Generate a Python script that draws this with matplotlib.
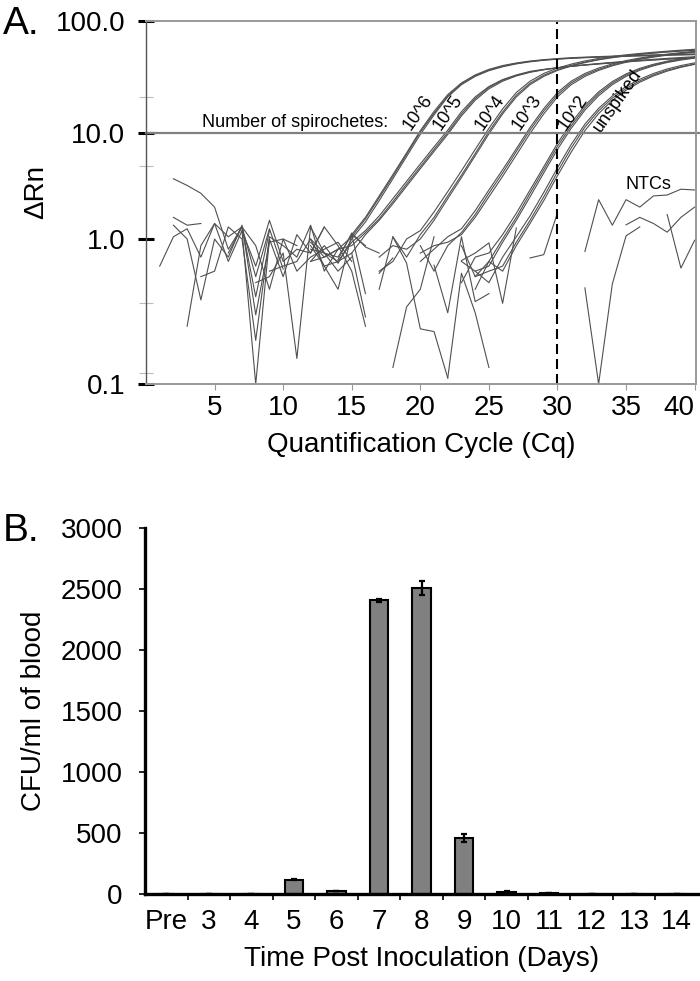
import numpy as np
import matplotlib
matplotlib.use('Agg')
import matplotlib.pyplot as plt

plt.rcParams['font.family'] = ['Liberation Sans', 'DejaVu Sans']

# ---- panel A: qPCR amplification curves (start cycle, delta Rn per cycle) ----
amp_1e6 = [
    (12, [0.95, 0.75, 0.85, 1.05, 1.55, 2.45, 3.9, 6.3, 10.2, 15.0, 21.5, 27.5, 32.5, 36.5,
          39.5, 41.8, 43.5, 44.8, 45.8, 46.6, 47.2, 47.7, 48.2, 48.6, 49.0, 49.4, 49.8, 50.1, 50.4]),
    (12, [0.7, 0.9, 0.68, 1.0, 1.45, 2.3, 3.7, 6.0, 9.7, 14.5, 21.0, 27.0, 32.0, 36.0,
          39.0, 41.4, 43.2, 44.6, 45.6, 46.4, 47.0, 47.5, 48.0, 48.4, 48.8, 49.1, 49.4, 49.7, 50.0]),
    (12, [1.0, 0.8, 0.75, 1.1, 1.6, 2.55, 4.05, 6.5, 10.5, 15.6, 22.0, 28.0, 33.0, 37.0,
          40.0, 42.2, 43.9, 45.2, 46.2, 47.0, 47.6, 48.1, 48.6, 49.0, 49.4, 49.8, 50.2, 50.5, 50.8]),
]
amp_1e5 = [
    (12, [0.85, 0.8, 0.7, 0.95, 1.2, 1.65, 2.4, 3.5, 5.1, 7.4, 10.6, 15.5, 21.0, 26.0, 30.0,
          33.0, 35.5, 37.0, 38.3, 39.4, 40.4, 41.3, 42.2, 43.1, 44.0, 44.8, 45.6, 46.3, 47.0]),
    (12, [0.7, 0.75, 0.85, 0.9, 1.15, 1.55, 2.25, 3.3, 4.8, 7.0, 10.1, 14.8, 20.3, 25.5, 29.6,
          32.7, 35.1, 36.8, 38.2, 39.4, 40.5, 41.5, 42.4, 43.3, 44.2, 45.0, 45.8, 46.5, 47.2]),
    (12, [0.9, 0.65, 0.7, 0.8, 1.1, 1.5, 2.15, 3.15, 4.6, 6.7, 9.7, 14.2, 19.6, 24.8, 29.0,
          32.3, 34.8, 36.7, 38.2, 39.5, 40.6, 41.7, 42.7, 43.7, 44.6, 45.5, 46.4, 47.2, 48.0]),
]
amp_1e4 = [
    (17, [0.75, 0.9, 0.85, 1.0, 1.5, 2.4, 3.8, 6.1, 9.8, 14.8, 21.0, 27.0, 32.0, 36.2,
          39.6, 42.5, 45.0, 47.0, 48.8, 50.3, 51.6, 52.8, 53.8, 54.8]),
    (17, [0.6, 0.7, 1.0, 1.2, 1.8, 2.8, 4.4, 7.0, 11.0, 16.4, 23.0, 29.0, 34.0, 38.0,
          41.2, 44.0, 46.3, 48.2, 49.9, 51.3, 52.6, 53.8, 54.9, 55.9]),
    (17, [0.45, 1.05, 0.75, 1.1, 1.6, 2.55, 4.0, 6.4, 10.3, 15.4, 21.8, 27.8, 32.8, 36.8,
          40.2, 43.0, 45.4, 47.4, 49.1, 50.6, 51.9, 53.1, 54.2, 55.2]),
]
amp_1e3 = [
    (20, [0.8, 0.9, 0.95, 1.1, 1.6, 2.5, 3.9, 6.2, 9.9, 14.8, 21.0, 27.0, 32.0, 36.2,
          39.8, 42.8, 45.4, 47.6, 49.5, 51.2, 52.7]),
    (20, [0.7, 0.85, 1.05, 1.25, 1.85, 2.9, 4.5, 7.1, 11.2, 16.5, 23.0, 29.0, 34.0, 38.0,
          41.4, 44.3, 46.7, 48.8, 50.6, 52.2, 53.6]),
    (20, [0.9, 0.6, 0.9, 1.15, 1.7, 2.7, 4.2, 6.7, 10.6, 15.7, 22.0, 28.0, 33.0, 37.0,
          40.5, 43.5, 46.0, 48.1, 50.0, 51.6, 53.1]),
]
amp_1e2 = [
    (23, [0.7, 0.6, 0.65, 0.95, 1.5, 2.5, 4.2, 7.0, 11.0, 16.0, 21.5, 27.0, 32.0, 36.3, 39.8,
          42.6, 44.8, 46.6]),
    (23, [0.5, 0.75, 0.8, 1.1, 1.75, 2.9, 4.8, 8.0, 12.3, 17.6, 23.3, 28.8, 33.7, 37.8, 41.1,
          43.8, 45.9, 47.6]),
    (23, [0.9, 0.55, 0.7, 1.0, 1.6, 2.7, 4.5, 7.5, 11.6, 16.8, 22.4, 27.9, 32.9, 37.0, 40.4,
          43.2, 45.4, 47.2]),
]
amp_unspiked = [
    (24, [0.55, 0.6, 0.65, 0.95, 1.5, 2.5, 4.3, 7.2, 11.3, 15.8, 20.5, 25.0, 29.2, 33.0, 36.3,
          39.0, 41.3]),
    (24, [0.6, 0.5, 0.75, 1.05, 1.65, 2.75, 4.7, 7.8, 12.0, 16.6, 21.4, 26.0, 30.2, 34.0, 37.3,
          40.0, 42.3]),
    (24, [0.45, 0.7, 0.6, 0.9, 1.4, 2.3, 3.95, 6.6, 10.5, 14.9, 19.6, 24.1, 28.4, 32.3, 35.7,
          38.6, 41.0]),
]
# baseline noise pieces (gaps are negative readings)
baseline_noise = [
    (2, [3.7, 3.2, 2.7, 2.0, 0.85, 1.3, 0.55, 1.25, 0.62]),
    (1, [0.65, 1.05, 1.25, 0.75, 1.4, 1.05, 1.3, 0.4, 1.2]),
    (2, [1.6, 1.35, 1.4]),
    (2, [1.35, 1.0, 0.38, 1.0, 0.75, 1.35, 0.3, 0.95, 1.0, 0.9]),
    (3, [0.25, 0.9, 1.4, 0.7, 1.2, 0.1, 1.0, 0.55, 1.1, 0.8, 1.3]),
    (4, [0.55, 0.6, 1.3, 1.0, 0.2, 1.05, 0.9, 0.75, 1.35, 0.6, 0.85]),
    (6, [0.8, 1.3, 0.9, 0.45, 1.0, 0.6, 0.75, 0.85, 0.95, 0.7]),
    (8, [0.5, 0.55, 0.8, 0.15, 1.3, 0.8, 0.6, 0.75]),
    (7, [1.2, 0.65, 1.5, 0.7, 0.85, 0.8, 1.3, 0.9, 0.6, 0.25]),
    (9, [0.6, 0.65, 0.7, 1.0, 0.65, 0.45, 1.1, 0.9]),
    (14, [0.72, 1.14, 0.88, 0.8]),
    (15, [1.1, 0.42]),
    (15, [0.8, 0.29]),
    (17, [0.58, 0.74]),
    (18, [1.05, 0.68, 0.24, 0.23, 0.11]),
    (18, [0.13, 0.34, 0.45, 1.05]),
    (21, [0.66, 0.31, 1.05, 0.37, 0.42]),
    (22, [0.11, 0.58, 0.31, 0.13]),
    (23, [0.71, 0.8, 0.94, 0.36, 1.27]),
    (28, [0.74, 0.78, 1.76]),
]
ntc_curves = [
    (32, [0.82, 2.35, 1.35, 2.35, 2.0, 2.55, 2.6, 2.95, 2.9]),
    (35, [1.36, 1.6, 1.4, 1.16, 1.6, 2.0]),
    (38, [1.7, 0.63, 0.98]),
    (32, [0.46, 0.10, 0.49, 1.07, 1.3]),
]
group_labels = ['10^6', '10^5', '10^4', '10^3', '10^2', 'unspiked']
label_cycle = [19.8, 22.0, 25.1, 27.8, 31.1, 34.4]
label_rn = [15.1, 15.1, 15.1, 15.1, 15.1, 19.4]
threshold = 10.0
cq_cut = 30

# ---- panel B: CFU per ml of blood ----
days = ['Pre', '3', '4', '5', '6', '7', '8', '9', '10', '11', '12', '13', '14']
cfu = [0, 0, 0, 117, 25, 2408, 2510, 458, 19, 5, 0, 0, 0]
cfu_err = [0, 0, 0, 6, 3, 12, 57, 32, 5, 0, 0, 0, 0]


# the y axis of the original is not evenly spaced per decade
def fwd(v):
    l = np.log10(np.clip(v, 1e-6, None))
    return np.where(l < 0, 145 + 145 * l,
                    np.where(l < 1, 145 + 106 * l, 251 + 112 * (l - 1)))


def inv(p):
    return np.where(p < 145, 10 ** ((p - 145) / 145),
                    np.where(p < 251, 10 ** ((p - 145) / 106), 10 ** (1 + (p - 251) / 112)))


fig = plt.figure(figsize=(7, 9.81), dpi=100)

ax = fig.add_axes([146 / 700, 1 - 384 / 981, 550 / 700, 363 / 981])
ax.set_yscale('function', functions=(fwd, inv))
line_col = '#505050'
for group in [baseline_noise, amp_1e6, amp_1e5, amp_1e4, amp_1e3, amp_1e2, amp_unspiked, ntc_curves]:
    for start, vals in group:
        ax.plot(np.arange(start, start + len(vals)), vals, color=line_col, lw=0.8)

ax.axhline(threshold, xmax=1.01, color='#808080', lw=1.6, clip_on=False)
ax.axvline(cq_cut, color='black', lw=1.5, dashes=(4.8, 2.4))

ax.set_xlim(0, 40.1)
ax.set_ylim(0.1, 100)
ax.set_xticks(range(5, 41, 5))
ax.set_yticks([0.1, 1, 10, 100])
ax.set_yticklabels(['0.1', '1.0', '10.0', '100.0'])
ax.set_yticks([21, 4.9, 0.36, 0.12], minor=True)
ax.tick_params(axis='y', which='major', direction='inout', length=12, width=2.2,
               color='black', labelsize=20, pad=9)
ax.tick_params(axis='y', which='minor', direction='inout', length=10, width=0.8,
               color='#bbbbbb', labelleft=False)
ax.tick_params(axis='x', direction='out', length=4, width=0.8, color='#999999',
               labelsize=20, pad=4)
ax.get_xticklabels()[-1].set_horizontalalignment('right')
for side in ['top', 'right', 'bottom']:
    ax.spines[side].set_color('#999999')
    ax.spines[side].set_linewidth(1.4)
ax.spines['left'].set_color('#555555')
ax.spines['left'].set_linewidth(1.0)

ax.set_xlabel('Quantification Cycle (Cq)', fontsize=20, labelpad=8)
ax.set_ylabel('\u0394Rn', fontsize=20, va='center')
ax.yaxis.set_label_coords(-0.2, 0.53)

ax.text(4.1, 10.4, 'Number of spirochetes:', fontsize=13, ha='left', va='bottom')
for name, cx, cy in zip(group_labels, label_cycle, label_rn):
    ax.text(cx, cy, name, fontsize=13, rotation=55, ha='center', va='center',
            rotation_mode='anchor')
ax.text(36.6, 3.3, 'NTCs', fontsize=13, ha='center', va='center')
fig.text(3 / 700, 1 - 34 / 981, 'A.', fontsize=28, ha='left', va='baseline')

# ---- panel B ----
bx = fig.add_axes([145 / 700, 1 - 894 / 981, 553 / 700, 366 / 981])
pos = np.arange(len(days))
bx.bar(pos, cfu, width=0.43, color='#808080', edgecolor='black', linewidth=1.5,
       yerr=cfu_err, error_kw=dict(ecolor='black', elinewidth=1.6, capsize=2.5, capthick=1.6))
bx.set_xlim(-0.5, len(days) - 0.5)
bx.set_ylim(0, 3000)
bx.set_yticks(range(0, 3001, 500))
bx.set_xticks(pos)
bx.set_xticklabels(days)
bx.set_xticks(pos[:-1] + 0.5, minor=True)
bx.tick_params(axis='x', which='major', length=0, labelsize=20, pad=11)
bx.tick_params(axis='x', which='minor', direction='out', length=4, width=1.2)
bx.tick_params(axis='y', direction='out', length=4, width=1.2, labelsize=20, pad=12)
bx.spines['top'].set_visible(False)
bx.spines['right'].set_visible(False)
bx.spines['left'].set_linewidth(2.4)
bx.spines['bottom'].set_linewidth(2.4)
bx.set_xlabel('Time Post Inoculation (Days)', fontsize=20, labelpad=8)
bx.set_ylabel('CFU/ml of blood', fontsize=20, va='center')
bx.yaxis.set_label_coords(-0.2, 0.5)
fig.text(3 / 700, 1 - 541 / 981, 'B.', fontsize=28, ha='left', va='baseline')

fig.savefig('out.png', dpi=100)
